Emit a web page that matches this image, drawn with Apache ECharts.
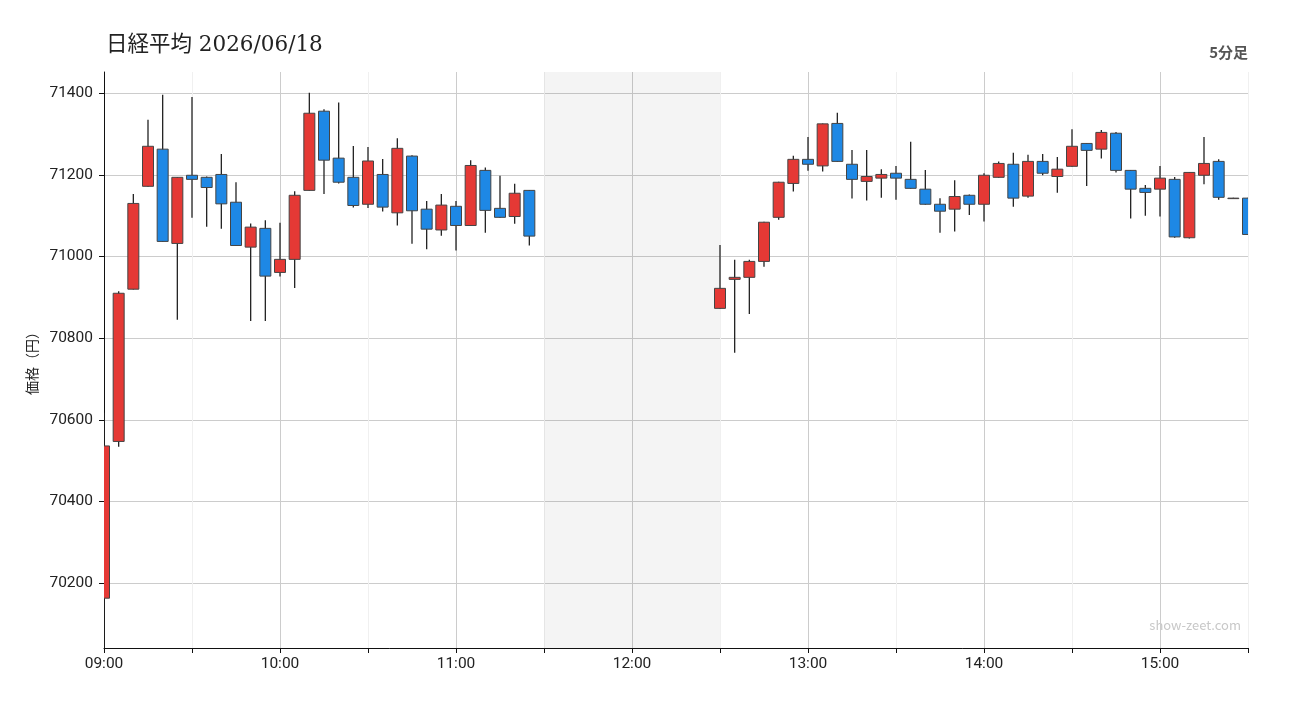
<!DOCTYPE html>
<html>
<head>
<meta charset="utf-8">
<script src="https://cdn.jsdelivr.net/npm/echarts@6/dist/echarts.min.js"></script>
<style>
  html, body { margin: 0; padding: 0; background: #fff; }
  #chart { width: 1300px; height: 720px; }
</style>
</head>
<body>
<div id="chart"></div>
<script>
// 5分足 (始値・終値・安値・高値)
const times = [
  '09:00', '09:05', '09:10', '09:15', '09:20', '09:25', '09:30', '09:35', '09:40', '09:45',
  '09:50', '09:55', '10:00', '10:05', '10:10', '10:15', '10:20', '10:25', '10:30', '10:35',
  '10:40', '10:45', '10:50', '10:55', '11:00', '11:05', '11:10', '11:15', '11:20', '11:25',
  '12:30', '12:35', '12:40', '12:45', '12:50', '12:55',
  '13:00', '13:05', '13:10', '13:15', '13:20', '13:25', '13:30', '13:35', '13:40', '13:45', '13:50', '13:55',
  '14:00', '14:05', '14:10', '14:15', '14:20', '14:25', '14:30', '14:35', '14:40', '14:45', '14:50', '14:55',
  '15:00', '15:05', '15:10', '15:15', '15:20', '15:25', '15:30'
];
const opens = [
  70163, 70547, 70920, 71172, 71263, 71032, 71199, 71194, 71201, 71133,
  71023, 71069, 70961, 70993, 71162, 71356, 71241, 71194, 71128, 71201,
  71107, 71246, 71116, 71065, 71123, 71076, 71211, 71118, 71098, 71162,
  70873, 70944, 70949, 70988, 71096, 71179,
  71238, 71222, 71326, 71226, 71184, 71192, 71204, 71189, 71165, 71128, 71116, 71150,
  71128, 71194, 71226, 71148, 71233, 71196, 71221, 71277, 71263, 71302, 71211, 71167,
  71165, 71189, 71046, 71199, 71233, 71143, 71143
];
const closes = [
  70536, 70910, 71130, 71270, 71037, 71194, 71189, 71169, 71129, 71027,
  71072, 70952, 70993, 71150, 71351, 71236, 71182, 71125, 71234, 71121,
  71265, 71112, 71067, 71126, 71076, 71223, 71113, 71096, 71155, 71050,
  70922, 70949, 70988, 71084, 71182, 71238,
  71226, 71325, 71233, 71189, 71196, 71201, 71192, 71167, 71128, 71111, 71147, 71128,
  71199, 71228, 71143, 71233, 71204, 71214, 71270, 71260, 71304, 71211, 71165, 71157,
  71192, 71048, 71206, 71228, 71145, 71143, 71054
];
const lows = [
  70030, 70534, 70919, 71171, 71036, 70845, 71095, 71073, 71068, 71026,
  70842, 70842, 70951, 70923, 71161, 71153, 71179, 71120, 71119, 71110,
  71076, 71031, 71018, 71051, 71015, 71075, 71058, 71095, 71080, 71027,
  70872, 70764, 70859, 70975, 71090, 71159,
  71210, 71208, 71232, 71142, 71137, 71144, 71139, 71166, 71127, 71058, 71061, 71102,
  71086, 71193, 71122, 71144, 71199, 71156, 71220, 71173, 71240, 71206, 71093, 71100,
  71098, 71046, 71044, 71177, 71139, 71142, 71053
];
const highs = [
  70617, 70915, 71153, 71335, 71396, 71195, 71391, 71196, 71251, 71182,
  71081, 71089, 71083, 71160, 71401, 71361, 71377, 71271, 71268, 71239,
  71290, 71248, 71136, 71153, 71136, 71236, 71218, 71198, 71178, 71163,
  71028, 70992, 70992, 71085, 71183, 71247,
  71293, 71326, 71352, 71261, 71261, 71214, 71222, 71281, 71212, 71143, 71187, 71152,
  71204, 71233, 71254, 71249, 71251, 71244, 71312, 71278, 71310, 71305, 71212, 71175,
  71222, 71195, 71207, 71293, 71238, 71144, 71144
];
const priceTicks = [70200, 70400, 70600, 70800, 71000, 71200, 71400];
const lunchBreak = ['11:30', '12:30'];

const UP = '#e53935';
const DOWN = '#1e88e5';
const FONT = '"Noto Sans CJK JP", "Noto Sans", sans-serif';
const NUM_FONT = 'Roboto, "Noto Sans", sans-serif';

// 09:00 からの経過分
const toMinutes = (t) => {
  const [h, m] = t.split(':').map(Number);
  return (h - 9) * 60 + m;
};
const pad = (n) => (n < 10 ? '0' : '') + n;

const rows = times.map((t, i) => [toMinutes(t), opens[i], closes[i], lows[i], highs[i]]);

const renderCandle = (params, api) => {
  const x = api.value(0);
  const o = api.value(1);
  const c = api.value(2);
  const pO = api.coord([x, o]);
  const pC = api.coord([x, c]);
  const pL = api.coord([x, api.value(3)]);
  const pH = api.coord([x, api.value(4)]);
  const w = api.size([5, 0])[0] * 0.75;
  const top = Math.min(pO[1], pC[1]);
  const bottom = Math.max(pO[1], pC[1]);
  const cx = pO[0];
  return {
    type: 'group',
    children: [
      {
        type: 'line',
        shape: { x1: cx, y1: pH[1], x2: cx, y2: pL[1] },
        style: { stroke: '#222', lineWidth: 1.3 }
      },
      {
        type: 'rect',
        shape: { x: cx - w / 2, y: top, width: w, height: Math.max(bottom - top, 0.5) },
        style: { fill: c >= o ? UP : DOWN, stroke: '#444', lineWidth: 1 }
      }
    ]
  };
};

const chart = echarts.init(document.getElementById('chart'));

chart.setOption({
  animation: false,
  backgroundColor: '#fff',
  title: {
    text: '日経平均 2026/06/18',
    left: 106,
    top: 33,
    padding: 0,
    textStyle: {
      fontFamily: '"DejaVu Serif", "Noto Sans CJK JP", serif',
      fontSize: 21.5,
      fontWeight: 'normal',
      color: '#222',
      lineHeight: 24
    }
  },
  graphic: [
    {
      type: 'text',
      right: 52,
      top: 45,
      style: { text: '5分足', font: 'bold 15px ' + FONT, fill: '#555' }
    },
    {
      type: 'text',
      right: 59,
      top: 619,
      style: { text: 'show-zeet.com', font: '13px ' + FONT, fill: '#c8c8c8' }
    }
  ],
  grid: { left: 104, right: 52, top: 72, bottom: 72 },
  xAxis: {
    type: 'value',
    min: 0,
    max: 390,
    interval: 30,
    axisLine: { lineStyle: { color: '#111', width: 1 } },
    axisTick: { show: true, length: 5, lineStyle: { color: '#111' } },
    axisLabel: {
      margin: 8,
      color: '#222',
      fontFamily: NUM_FONT,
      fontSize: 15.5,
      formatter: (v) => (v % 60 === 0 ? pad(9 + v / 60) + ':00' : '')
    },
    splitLine: { show: true, lineStyle: { color: ['#cccccc', '#f0f0f0'], width: 1 } }
  },
  yAxis: {
    type: 'value',
    min: 70041,
    max: 71452,
    name: '価格（円）',
    nameLocation: 'middle',
    nameRotate: 90,
    nameGap: 64,
    nameTextStyle: { color: '#222', fontFamily: FONT, fontSize: 14 },
    axisLine: { show: true, lineStyle: { color: '#111', width: 1 } },
    axisTick: { show: true, length: 5, lineStyle: { color: '#111' }, customValues: priceTicks },
    axisLabel: {
      margin: 11,
      color: '#222',
      fontFamily: NUM_FONT,
      fontSize: 15.5,
      customValues: priceTicks,
      formatter: (v) => String(Math.round(v))
    },
    splitLine: { show: true, lineStyle: { color: '#cccccc', width: 1 } }
  },
  series: [
    {
      type: 'line',
      data: [],
      silent: true,
      markArea: {
        silent: true,
        itemStyle: { color: 'rgba(0,0,0,0.045)' },
        data: [[{ xAxis: toMinutes(lunchBreak[0]) }, { xAxis: toMinutes(lunchBreak[1]) }]]
      }
    },
    {
      type: 'custom',
      name: '日経平均',
      clip: true,
      renderItem: renderCandle,
      encode: { x: 0, y: [1, 2, 3, 4] },
      data: rows
    }
  ]
});

window.addEventListener('resize', () => chart.resize());
</script>
</body>
</html>
